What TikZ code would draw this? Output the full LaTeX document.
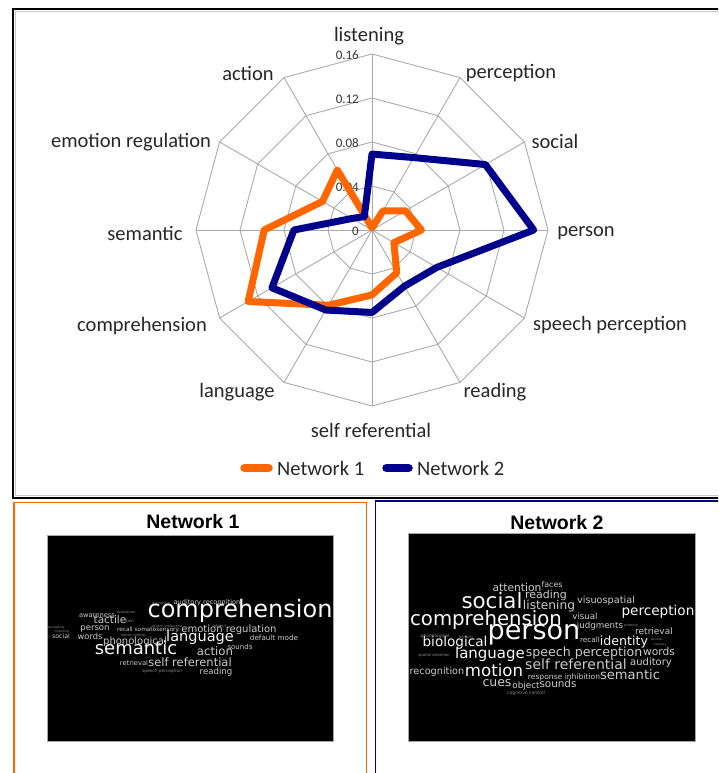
\documentclass[tikz,border=0pt]{standalone}
\usepackage{fontspec}
\setmainfont{Carlito}
\newfontfamily\titlefont{Liberation Sans}
\newfontfamily\cloudfont{DejaVu Sans}
\usetikzlibrary{calc}
\definecolor{netorange}{RGB}{255,102,0}
\definecolor{netblue}{RGB}{0,0,140}
\definecolor{gridgray}{RGB}{170,170,170}
\definecolor{wA}{RGB}{250,250,250}
\definecolor{wB}{RGB}{205,205,205}
\definecolor{wC}{RGB}{140,140,140}
\newcounter{wcnt}
\newcommand\cw[5]{\stepcounter{wcnt}\node[cloudword, text=#4, font=\cloudfont\fontsize{#3}{#3}\selectfont] (cw\thewcnt) at (#1,#2) {#5};}
\begin{document}
\begin{tikzpicture}[x=1pt,y=-1pt,
  axislabel/.style={font=\fontsize{20.5}{24}\selectfont, text=black!85, inner sep=0},
  ticklabel/.style={font=\fontsize{13}{15}\selectfont, text=black!80, anchor=east, inner sep=0},
  legendlabel/.style={font=\fontsize{20.5}{24}\selectfont, text=black!85, anchor=west, inner sep=0},
  gridline/.style={draw=gridgray, line width=0.9pt},
  series1/.style={draw=netorange, line width=7pt, line join=round},
  series2/.style={draw=netblue, line width=7pt, line join=round},
  legendline/.style={line width=8.5pt, line cap=round},
  cloudword/.style={anchor=mid, inner sep=0},
  paneltitle/.style={font=\titlefont\bfseries\fontsize{19.5}{22}\selectfont, inner sep=0},
  cloudbg/.style={fill=black, draw=gray!70, line width=0.6pt}
]
\useasboundingbox (0,0) rectangle (718,773);
\clip (0,0) rectangle (718,773);

% panel frames
\draw[black, line width=2pt] (13,9.5) rectangle (730,497.5);
\draw[gray!45, line width=1pt] (15.5,12) rectangle (730,495.2);
\draw[netorange, line width=1.6pt] (13.8,502.3) rectangle (366.5,790);
\draw[netblue, line width=1.6pt] (375.5,501) rectangle (730,790);

% radar chart
\begin{scope}[shift={(372,230)}]
  \foreach \r in {44,88,132,176}
    \draw[gridline] (-90:\r) \foreach \k in {1,...,11} { -- ({-90+30*\k}:\r) } -- cycle;
  \foreach \k in {0,...,11}
    \draw[gridline] (0,0) -- ({-90+30*\k}:176);
  \foreach \v [count=\k from 0] in {0.002,0.020,0.035,0.045,0.023,0.045,0.059,0.079,0.130,0.098,0.052,0.063}
    \coordinate (a\k) at ({-90+30*\k}:{\v*1100});
  \foreach \v [count=\k from 0] in {0.069,0.076,0.119,0.147,0.068,0.059,0.075,0.084,0.105,0.071,0.021,0.014}
    \coordinate (b\k) at ({-90+30*\k}:{\v*1100});
\end{scope}

\node[ticklabel] (t0) at (359,231.5) {0};
\node[ticklabel] (t1) at (359,187.5) {0.04};
\node[ticklabel] (t2) at (359,143.3) {0.08};
\node[ticklabel] (t3) at (359,99) {0.12};
\node[ticklabel] (t4) at (359,55.5) {0.16};

\draw[series1] (a0) -- (a1) -- (a2) -- (a3) -- (a4) -- (a5) -- (a6) -- (a7) -- (a8) -- (a9) -- (a10) -- (a11) -- cycle;
\draw[series2] (b0) -- (b1) -- (b2) -- (b3) -- (b4) -- (b5) -- (b6) -- (b7) -- (b8) -- (b9) -- (b10) -- (b11) -- cycle;

% axis labels
\node[axislabel] (Llistening) at (369,36) {listening};
\node[axislabel] (Lperception) at (511,73) {perception};
\node[axislabel] (Lsocial) at (555,141) {social};
\node[axislabel] (Lperson) at (586,233) {person};
\node[axislabel] (Lspeech) at (610,325) {speech perception};
\node[axislabel] (Lreading) at (495,392) {reading};
\node[axislabel] (Lself) at (371,430) {self referential};
\node[axislabel] (Llanguage) at (237,392) {language};
\node[axislabel] (Lcomp) at (142,326) {comprehension};
\node[axislabel] (Lsemantic) at (145,233) {semantic};
\node[axislabel] (Lemotion) at (131,142) {emotion regulation};
\node[axislabel] (Laction) at (248,73) {action};

% legend
\coordinate (l1a) at (244.5,468);
\coordinate (l1b) at (268.5,468);
\coordinate (l2a) at (386.5,468);
\coordinate (l2b) at (408.5,468);
\draw[legendline, netorange] (l1a) -- (l1b);
\draw[legendline, netblue] (l2a) -- (l2b);
\node[legendlabel] (leg1) at (277,468) {Network 1};
\node[legendlabel] (leg2) at (417,468) {Network 2};

% panel titles
\node[paneltitle] (title1) at (193,522) {Network 1};
\node[paneltitle] (title2) at (557,523) {Network 2};

% word cloud backgrounds
\draw[cloudbg] (47,535) rectangle (333,741);
\draw[cloudbg] (408,533) rectangle (695,741);

% word cloud 1
\cw{161}{602}{3.3}{wC}{perception}
\cw{207}{602.5}{6.6}{wB}{auditory recognition}
\cw{97}{615}{6.7}{wB}{awareness}
\cw{126}{611.5}{3.5}{wC}{evaluation}
\cw{240}{615}{24}{wA}{comprehension}
\cw{110}{621.5}{10.5}{wB}{tactile}
\cw{129.5}{620.5}{4}{wC}{pain}
\cw{167}{625}{3.3}{wC}{speech production}
\cw{220}{625}{4}{wC}{object}
\cw{56}{626}{3.2}{wC}{perceptual}
\cw{62}{630.5}{3.2}{wC}{cognitive}
\cw{95}{628}{8.5}{wB}{person}
\cw{148}{629}{5.8}{wB}{recall somatosensory}
\cw{229}{630.5}{10}{wB}{emotion regulation}
\cw{133}{634}{3.6}{wC}{motor control}
\cw{61}{636}{6.3}{wB}{social}
\cw{90}{637}{8.3}{wB}{words}
\cw{135}{642.5}{10}{wB}{phonological}
\cw{200}{639.5}{14.5}{wA}{language}
\cw{274}{638}{7.2}{wB}{default mode}
\cw{240}{647}{7}{wB}{sounds}
\cw{136}{652}{18}{wA}{semantic}
\cw{215}{653}{11.7}{wB}{action}
\cw{134}{663}{6.7}{wB}{retrieval}
\cw{190}{664}{11.5}{wB}{self referential}
\cw{162}{670}{4.3}{wC}{speech perception}
\cw{216}{672}{8.6}{wB}{reading}

% word cloud 2
\cw{517}{589}{10.7}{wB}{attention}
\cw{552}{585.5}{7.9}{wB}{faces}
\cw{546}{596}{11}{wB}{reading}
\cw{492}{606}{21.4}{wA}{social}
\cw{549}{607}{12.2}{wB}{listening}
\cw{606}{601.5}{9.7}{wB}{visuospatial}
\cw{658}{613}{13.6}{wA}{perception}
\cw{585}{617}{8.6}{wB}{visual}
\cw{486}{623}{19.7}{wA}{comprehension}
\cw{600}{626.5}{8.7}{wB}{judgments}
\cw{631}{624}{3.5}{wC}{priming}
\cw{654}{632.5}{9}{wB}{retrieval}
\cw{534}{637}{27}{wA}{person}
\cw{590}{640}{7.3}{wB}{recall}
\cw{624}{643}{12.6}{wA}{identity}
\cw{455}{644}{13.6}{wA}{biological}
\cw{435}{635}{4.5}{wC}{phonological}
\cw{466}{636}{3.3}{wC}{modality}
\cw{657}{638}{3}{wC}{episodic}
\cw{660}{643}{3}{wC}{category}
\cw{434}{654}{3.8}{wC}{spatial attention}
\cw{490}{656}{15}{wA}{language}
\cw{584}{654.5}{12.6}{wB}{speech perception}
\cw{659}{653}{10.7}{wB}{words}
\cw{576}{667}{14}{wB}{self referential}
\cw{651}{663}{10}{wB}{auditory}
\cw{437}{672}{9.7}{wB}{recognition}
\cw{494}{674}{16.6}{wA}{motion}
\cw{564}{677}{7.6}{wB}{response inhibition}
\cw{630}{677}{13.1}{wB}{semantic}
\cw{497}{684}{12.5}{wB}{cues}
\cw{526}{686}{8.8}{wB}{object}
\cw{558}{685}{10.4}{wB}{sounds}
\cw{526}{692}{4.5}{wC}{cognitive control}
\end{tikzpicture}
\end{document}
